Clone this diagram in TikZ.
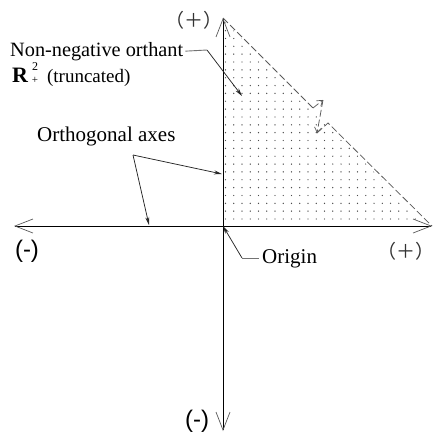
\documentclass[tikz,border=0pt]{standalone}
\usepackage{fontspec}
\setmainfont{Liberation Serif}
\newfontfamily\arialf{Liberation Sans}
\newfontfamily\cjkf{Noto Sans CJK SC}
\usetikzlibrary{arrows.meta}
\begin{document}
\begin{tikzpicture}[x=1pt,y=-1pt,
  axisline/.style={line width=0.9pt,black,
    -{Straight Barb[length=18pt,width=14pt,line width=0.7pt,color=black!65]}},
  hyp/.style={dash pattern=on 7pt off 3pt,black!65,line width=0.75pt},
  brk/.style={hyp,-{Straight Barb[length=5pt,width=7pt,line width=0.7pt]}},
  leadergray/.style={black!55,line width=0.9pt},
  leader/.style={black!85,line width=0.75pt,-{Stealth[length=8pt,width=4pt]}},
  lbl/.style={anchor=base west,inner sep=0pt,font=\fontsize{21}{23}\selectfont},
  sign/.style={inner sep=0pt,font=\arialf\fontsize{24}{24}\selectfont},
  plus/.style={inner sep=0pt,font=\cjkf\fontsize{19}{19}\selectfont,black!80}]
\useasboundingbox (0,0) rectangle (435,432);
% dotted region
\begin{scope}
  \clip (223,20) -- (428,226) -- (223,226) -- cycle;
  \foreach \k in {0,...,25}{
    \foreach \j in {0,...,25}{
      \fill[black!70] ({225.5+8.25*\j},{219-7.85*\k}) circle (0.7pt);
    }
  }
\end{scope}
% axes
\coordinate (O) at (223,226);
\coordinate (T) at (223,18);
\coordinate (B) at (223,431);
\coordinate (L) at (14,226);
\coordinate (R) at (432,226);
\draw[axisline] (O) -- (T);
\draw[axisline] (O) -- (B);
\draw[axisline] (O) -- (L);
\draw[axisline] (O) -- (R);
% hypotenuse with break
\coordinate (b1) at (313,108);
\coordinate (b2) at (323,100);
\coordinate (b3) at (317,133);
\coordinate (b4) at (328,123);
\draw[hyp] (T) -- (b1);
\draw[brk] (b1) -- (b2);
\draw[brk] (b2) -- (b3);
\draw[hyp] (b3) -- (b4) -- (R);
% sign labels
\node[plus] (pT) at (193.5,20.5) {（＋）};
\node[plus,anchor=east] (pR) at (435,251) {（＋）};
\node[sign] (mL) at (27,251) {(-)};
\node[sign] (mB) at (197,421) {(-)};
% text labels
\node[lbl,font=\fontsize{20.3}{22}\selectfont] (nn) at (10,56) {Non-negative orthant};
\node[lbl,font=\fontsize{19}{21}\selectfont] (rp) at (12,82)
  {{\bfseries\fontsize{22}{22}\selectfont R}\hspace{4pt}\raisebox{12pt}{\fontsize{12}{12}\selectfont 2}\llap{\raisebox{-1pt}{\fontsize{11}{11}\selectfont +}}\hspace{9pt}(truncated)};
\node[lbl] (oa) at (37,141) {Orthogonal axes};
\node[lbl] (org) at (262,263) {Origin};
% leaders
\coordinate (nnk) at (207,50);
\coordinate (nna) at (242,96);
\draw[leadergray] ([xshift=2pt]nn.east) -- (nnk);
\draw[leader] (nnk) -- (nna);
\coordinate (oav) at (133,155);
\coordinate (oa1) at (222,174);
\coordinate (oa2) at (149,225);
\draw[leader] (oav) -- (oa1);
\draw[leader] (oav) -- (oa2);
\coordinate (ok) at (242,258);
\draw[leadergray] ([xshift=-3pt]org.west |- ok) -- (ok);
\draw[leader] (ok) -- (O);
\end{tikzpicture}
\end{document}
